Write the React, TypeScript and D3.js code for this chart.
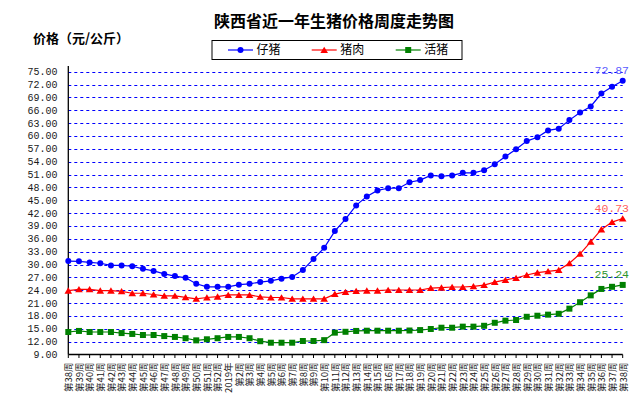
import { useEffect, useRef } from "react";
import * as d3 from "d3";

const WEEKS = [
  "第38周", "第39周", "第40周", "第41周", "第42周", "第43周", "第44周", "第45周",
  "第46周", "第47周", "第48周", "第49周", "第50周", "第51周", "第52周", "2019年",
  "第2周", "第3周", "第4周", "第5周", "第6周", "第7周", "第8周", "第9周",
  "第10周", "第11周", "第12周", "第13周", "第14周", "第15周", "第16周", "第17周",
  "第18周", "第19周", "第20周", "第21周", "第22周", "第23周", "第24周", "第25周",
  "第26周", "第27周", "第28周", "第29周", "第30周", "第31周", "第32周", "第33周",
  "第34周", "第35周", "第36周", "第37周", "第38周",
];

const PIGLET = [
  30.8, 30.75, 30.5, 30.3, 29.8, 29.8, 29.6, 29.0, 28.5, 27.8, 27.3, 26.9, 25.5,
  24.8, 24.8, 24.8, 25.3, 25.5, 25.9, 26.2, 26.7, 27.1, 28.7, 31.3, 33.9, 37.8,
  40.6, 43.8, 45.9, 47.3, 47.8, 47.8, 49.2, 49.7, 50.8, 50.6, 50.8, 51.4, 51.4,
  52.0, 53.4, 55.2, 56.9, 58.8, 59.7, 61.3, 61.7, 63.7, 65.5, 66.9, 69.9, 71.5,
  72.87,
];

const PORK = [
  23.9, 24.2, 24.2, 23.9, 23.9, 23.75, 23.3, 23.3, 23.0, 22.7, 22.7, 22.35, 22.0,
  22.3, 22.5, 22.9, 22.9, 22.9, 22.45, 22.3, 22.3, 22.0, 22.0, 22.0, 22.0, 23.1,
  23.6, 23.8, 23.9, 23.9, 24.05, 24.05, 24.05, 24.05, 24.5, 24.6, 24.75, 24.75,
  24.9, 25.2, 25.9, 26.4, 26.85, 27.55, 28.1, 28.4, 28.7, 30.3, 32.5, 35.3, 38.2,
  39.9, 40.73,
];

const LIVE_HOG = [
  14.25, 14.5, 14.25, 14.25, 14.25, 14.0, 13.8, 13.55, 13.55, 13.3, 13.1, 12.8,
  12.3, 12.55, 12.8, 13.1, 13.1, 12.8, 12.1, 11.75, 11.75, 11.75, 12.15, 12.15,
  12.35, 14.1, 14.3, 14.5, 14.55, 14.55, 14.55, 14.55, 14.6, 14.7, 14.95, 15.25,
  15.25, 15.5, 15.5, 15.7, 16.4, 16.9, 17.05, 17.8, 18.05, 18.3, 18.5, 19.7, 21.2,
  22.8, 24.3, 24.8, 25.24,
];

const Y_TICKS = d3.range(9, 76, 3);

const SERIES = [
  { name: "仔猪", values: PIGLET, color: "#0000ff", labelColor: "#5a5aff", marker: "circle" },
  { name: "猪肉", values: PORK, color: "#ff0000", labelColor: "#ff5c5c", marker: "triangle" },
  { name: "活猪", values: LIVE_HOG, color: "#008000", labelColor: "#2f962f", marker: "square" },
];

const CJK = "'Noto Sans CJK SC', 'Noto Sans', sans-serif";
const MONO = "'Liberation Mono', 'DejaVu Sans Mono', monospace";

function drawMarker(
  g: d3.Selection<SVGGElement, unknown, null, undefined>,
  type: string,
  cx: number,
  cy: number,
  color: string
) {
  if (type === "circle") {
    g.append("circle").attr("cx", cx).attr("cy", cy).attr("r", 3).attr("fill", color);
  } else if (type === "triangle") {
    g.append("path")
      .attr("d", `M${cx},${cy - 3.3}L${cx + 3.8},${cy + 3}L${cx - 3.8},${cy + 3}Z`)
      .attr("fill", color);
  } else {
    g.append("rect")
      .attr("x", cx - 3)
      .attr("y", cy - 3)
      .attr("width", 6)
      .attr("height", 6)
      .attr("fill", color);
  }
}

export default function App() {
  const svgRef = useRef<SVGSVGElement>(null);

  useEffect(() => {
    if (!svgRef.current) return;
    const svg = d3.select(svgRef.current);
    svg.selectAll("*").remove();

    const width = 637;
    const height = 404;
    const left = 68.3;
    const right = 622.7;
    const top = 66;
    const bottom = 354.5;

    svg.append("rect").attr("width", width).attr("height", height).attr("fill", "#fff");

    const x = d3.scalePoint<number>()
      .domain(d3.range(WEEKS.length))
      .range([left, right])
      .padding(0);

    const y = d3.scaleLinear().domain([9, 75]).range([bottom, 71.7]);

    // gridlines
    svg.append("g")
      .selectAll("line")
      .data(Y_TICKS.filter((t) => t > 9))
      .join("line")
      .attr("x1", left)
      .attr("x2", right)
      .attr("y1", (d) => Math.round(y(d)) + 0.5)
      .attr("y2", (d) => Math.round(y(d)) + 0.5)
      .attr("stroke", "#0000ff")
      .attr("stroke-width", 1)
      .attr("stroke-dasharray", "3,3");

    // Y axis
    svg.append("line")
      .attr("x1", left).attr("x2", left)
      .attr("y1", top).attr("y2", bottom)
      .attr("stroke", "#000").attr("stroke-width", 1.3);

    svg.append("g")
      .selectAll("text")
      .data(Y_TICKS)
      .join("text")
      .attr("x", 57.5)
      .attr("y", (d) => y(d))
      .attr("dy", "0.35em")
      .attr("text-anchor", "end")
      .attr("font-family", MONO)
      .attr("font-size", "10px")
      .attr("fill", "#1a1a1a")
      .text((d) => d.toFixed(2));

    // X axis
    svg.append("line")
      .attr("x1", left).attr("x2", right)
      .attr("y1", bottom).attr("y2", bottom)
      .attr("stroke", "#000").attr("stroke-width", 1.3);

    svg.append("g")
      .selectAll("line")
      .data(d3.range(WEEKS.length))
      .join("line")
      .attr("x1", (d) => x(d)!)
      .attr("x2", (d) => x(d)!)
      .attr("y1", bottom)
      .attr("y2", bottom + 3.5)
      .attr("stroke", "#000");

    svg.append("g")
      .selectAll("text")
      .data(d3.range(WEEKS.length))
      .join("text")
      .attr("transform", (d) => `translate(${x(d)! + 0.5},${bottom + 8}) rotate(-90)`)
      .attr("text-anchor", "end")
      .attr("dy", "0.35em")
      .attr("font-family", CJK)
      .attr("font-size", "9.5px")
      .attr("fill", "#222")
      .text((d) => WEEKS[d]);

    // series
    SERIES.forEach((s) => {
      const line = d3.line<number>()
        .x((_, i) => x(i)!)
        .y((d) => y(d));
      svg.append("path")
        .datum(s.values)
        .attr("fill", "none")
        .attr("stroke", s.color)
        .attr("stroke-width", 1.2)
        .attr("d", line);
      const g = svg.append("g");
      s.values.forEach((v, i) => drawMarker(g, s.marker, x(i)!, y(v), s.color));

      const last = s.values[s.values.length - 1];
      svg.append("text")
        .attr("x", 629)
        .attr("y", y(last) - 11)
        .attr("dy", "0.35em")
        .attr("text-anchor", "end")
        .attr("font-family", MONO)
        .attr("font-size", "11.5px")
        .attr("fill", s.labelColor)
        .text(last.toFixed(2));
    });

    // title
    svg.append("text")
      .attr("x", 334)
      .attr("y", 21)
      .attr("dy", "0.35em")
      .attr("text-anchor", "middle")
      .attr("font-family", CJK)
      .attr("font-weight", "bold")
      .attr("font-size", "16px")
      .attr("fill", "#000")
      .text("陕西省近一年生猪价格周度走势图");

    svg.append("text")
      .attr("x", 33)
      .attr("y", 38.5)
      .attr("dy", "0.35em")
      .attr("font-family", CJK)
      .attr("font-weight", "bold")
      .attr("font-size", "13px")
      .attr("fill", "#000")
      .text("价格（元/公斤）");

    // legend
    svg.append("rect")
      .attr("x", 212)
      .attr("y", 40.5)
      .attr("width", 250)
      .attr("height", 19)
      .attr("fill", "#fff")
      .attr("stroke", "#000")
      .attr("stroke-width", 1);

    const legendX = [228, 311.7, 395.7];
    SERIES.forEach((s, i) => {
      const lx = legendX[i];
      const g = svg.append("g");
      g.append("line")
        .attr("x1", lx).attr("x2", lx + 25)
        .attr("y1", 50).attr("y2", 50)
        .attr("stroke", s.color).attr("stroke-width", 1.2);
      drawMarker(g, s.marker, lx + 12.5, 50, s.color);
      g.append("text")
        .attr("x", lx + 28.5)
        .attr("y", 50)
        .attr("dy", "0.35em")
        .attr("font-family", CJK)
        .attr("font-size", "12px")
        .attr("fill", "#000")
        .text(s.name);
    });
  }, []);

  return (
    <svg
      ref={svgRef}
      width={637}
      height={404}
      style={{ position: "absolute", left: 0, top: 0, display: "block" }}
    />
  );
}
